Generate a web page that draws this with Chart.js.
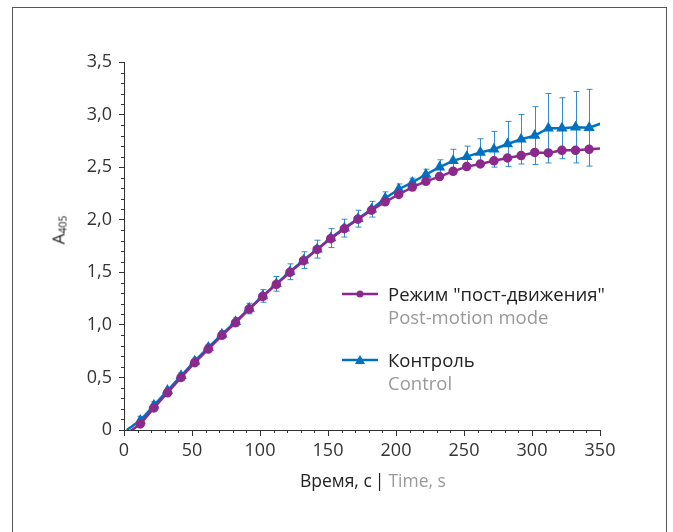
<!DOCTYPE html>
<html>
<head>
<meta charset="utf-8">
<script src="https://cdn.jsdelivr.net/npm/chart.js@4/dist/chart.umd.min.js"></script>
<style>
  body { margin: 0; background: #fff; font-family: 'Open Sans', sans-serif; }
  #wrap { position: relative; width: 673px; height: 532px; overflow: hidden; }
  #frame { position: absolute; left: 12px; top: 7px; width: 653px; height: 600px; border: 1px solid #555; }
  canvas { position: absolute; left: 0; top: 0; }
  .txt { position: absolute; white-space: nowrap; font-size: 17.5px; color: #222; }
  .grey { color: #999; }
  #ytitle { left: 58px; top: 230px; font-size: 17px; transform: translate(-50%, -50%) rotate(-90deg); }
  #ytitle sub { font-size: 10.5px; vertical-align: -2px; }
  .leg { position: absolute; left: 342px; }
  .leg svg { position: absolute; left: 0; top: 0; }
  .leg .l1 { position: absolute; left: 46px; top: -13px; font-size: 18.5px; color: #222; white-space: nowrap; }
  .leg .l2 { position: absolute; left: 46px; top: 10px; font-size: 18.5px; color: #999; white-space: nowrap; }
</style>
</head>
<body>
<div id="wrap">
  <div id="frame"></div>
  <canvas id="chart" width="673" height="532"></canvas>
  <div class="txt" id="xtitle" style="left:300px; top:468px;">Время, с<span style="margin:0 4px 0 3px">|</span><span class="grey">Time, s</span></div>
  <div class="txt" id="ytitle">A<sub>405</sub></div>
  <div class="leg" style="top:294px;">
    <svg width="40" height="12" style="top:-6px"><line x1="0" y1="6" x2="36" y2="6" stroke="#8B2A8C" stroke-width="2.5"/><circle cx="18" cy="6" r="3.5" fill="#8B2A8C"/></svg>
    <div class="l1">Режим "пост-движения"</div>
    <div class="l2">Post-motion mode</div>
  </div>
  <div class="leg" style="top:360px;">
    <svg width="40" height="12" style="top:-6px"><line x1="0" y1="6" x2="36" y2="6" stroke="#0070C0" stroke-width="2.5"/><polygon points="18,1 23,10 13,10" fill="#0070C0"/></svg>
    <div class="l1">Контроль</div>
    <div class="l2">Control</div>
  </div>
</div>
<script>
// время, с
const times = [2, 12, 22, 32, 42, 52, 62, 72, 82, 92, 102, 112, 122, 132, 142, 152, 162, 172, 182,
  192, 202, 212, 222, 232, 242, 252, 262, 272, 282, 292, 302, 312, 322, 332, 342, 352];
// Режим "пост-движения"
const postMotion = [-0.035, 0.057, 0.21, 0.354, 0.50, 0.64, 0.77, 0.90, 1.02, 1.15, 1.27, 1.385, 1.50,
  1.61, 1.717, 1.82, 1.914, 2.005, 2.09, 2.17, 2.24, 2.31, 2.365, 2.41, 2.46, 2.505, 2.53, 2.56,
  2.587, 2.61, 2.64, 2.635, 2.66, 2.66, 2.67, 2.68];
// Контроль
const control = [0, 0.09, 0.235, 0.375, 0.515, 0.655, 0.785, 0.91, 1.03, 1.155, 1.275, 1.39, 1.505,
  1.615, 1.72, 1.825, 1.92, 2.01, 2.1, 2.205, 2.29, 2.355, 2.43, 2.50, 2.56, 2.60, 2.64, 2.67,
  2.72, 2.765, 2.80, 2.87, 2.87, 2.88, 2.875, 2.92];
// погрешность контроля (+/-)
const controlErr = [0, 0.04, 0.035, 0.03, 0.03, 0.03, 0.03, 0.035, 0.04, 0.05, 0.06, 0.07, 0.075,
  0.08, 0.085, 0.09, 0.085, 0.08, 0.075, 0.06, 0.05, 0.04, 0.05, 0.07, 0.11, 0.10, 0.13, 0.17,
  0.215, 0.235, 0.275, 0.33, 0.29, 0.34, 0.365, 0];
const xTicks = [0, 50, 100, 150, 200, 250, 300, 350];
const yTicks = [0, 0.5, 1.0, 1.5, 2.0, 2.5, 3.0, 3.5];

const purple = '#8B2A8C';
const blue = '#0070C0';

const toXY = (arr) => times.map((t, i) => ({ x: t, y: arr[i] }));
// без маркеров на крайних точках (за пределами осей)
const radius = (r) => (c) => (c.dataIndex === 0 || c.dataIndex === times.length - 1) ? 0 : r;

// ошибки для синей серии
const errorBars = {
  id: 'errorBars',
  afterDatasetDraw(chart, args) {
    if (args.index !== 1) return;
    const { ctx, scales: { x, y }, chartArea } = chart;
    ctx.save();
    ctx.beginPath();
    ctx.rect(chartArea.left, chartArea.top - 20, chartArea.width, chartArea.height + 20);
    ctx.clip();
    ctx.strokeStyle = 'rgba(0,112,192,0.8)';
    ctx.lineWidth = 1;
    times.forEach((t, i) => {
      const e = controlErr[i];
      if (!e) return;
      const px = Math.round(x.getPixelForValue(t)) + 0.5;
      const top = y.getPixelForValue(control[i] + e);
      const bot = y.getPixelForValue(control[i] - e);
      ctx.beginPath();
      ctx.moveTo(px, top); ctx.lineTo(px, bot);
      ctx.moveTo(px - 3, top); ctx.lineTo(px + 3, top);
      ctx.moveTo(px - 3, bot); ctx.lineTo(px + 3, bot);
      ctx.stroke();
    });
    ctx.restore();
  }
};

// мелкие деления
const minorTicks = {
  id: 'minorTicks',
  afterDraw(chart) {
    const { ctx, scales: { x, y }, chartArea } = chart;
    ctx.save();
    ctx.strokeStyle = '#333';
    ctx.lineWidth = 1;
    ctx.beginPath();
    for (let i = 0; i <= 35; i++) {
      if (i % 5 === 0) continue;
      const px = Math.round(x.getPixelForValue(i * 10)) + 0.5;
      ctx.moveTo(px, chartArea.bottom); ctx.lineTo(px, chartArea.bottom + 3);
      const py = Math.round(y.getPixelForValue(i / 10)) + 0.5;
      ctx.moveTo(chartArea.left, py); ctx.lineTo(chartArea.left - 3, py);
    }
    ctx.stroke();
    ctx.restore();
  }
};

new Chart(document.getElementById('chart'), {
  type: 'line',
  data: {
    datasets: [{
      label: 'Режим "пост-движения"',
      data: toXY(postMotion),
      borderColor: purple,
      backgroundColor: purple,
      borderWidth: 2.5,
      pointStyle: 'circle',
      pointRadius: radius(3.5),
      pointHoverRadius: 0,
      clip: 0
    }, {
      label: 'Контроль',
      data: toXY(control),
      borderColor: blue,
      backgroundColor: blue,
      borderWidth: 2.5,
      pointStyle: 'triangle',
      pointRadius: radius(4),
      pointHoverRadius: 0,
      clip: 0
    }]
  },
  options: {
    responsive: false,
    animation: false,
    layout: { padding: { left: 0, right: 73, top: 62, bottom: 62 } },
    plugins: {
      legend: { display: false },
      tooltip: { enabled: false }
    },
    scales: {
      x: {
        type: 'linear',
        min: 0,
        max: 350,
        afterFit: (s) => { s.height = 40; },
        afterBuildTicks: (s) => { s.ticks = xTicks.map(v => ({ value: v })); },
        grid: { drawOnChartArea: false, tickLength: 6, tickColor: '#333' },
        border: { color: '#333', width: 1 },
        ticks: { color: '#333', font: { family: 'Open Sans', size: 18 }, padding: 4, maxRotation: 0 }
      },
      y: {
        min: 0,
        max: 3.5,
        afterFit: (s) => { s.width = 124; },
        afterBuildTicks: (s) => { s.ticks = yTicks.map(v => ({ value: v })); },
        grid: { drawOnChartArea: false, tickLength: 5, tickColor: '#333' },
        border: { color: '#333', width: 1 },
        ticks: {
          color: '#333',
          font: { family: 'Open Sans', size: 18 },
          padding: 7,
          callback: (v) => v === 0 ? '0' : v.toFixed(1).replace('.', ',')
        }
      }
    }
  },
  plugins: [errorBars, minorTicks]
});
</script>
</body>
</html>
